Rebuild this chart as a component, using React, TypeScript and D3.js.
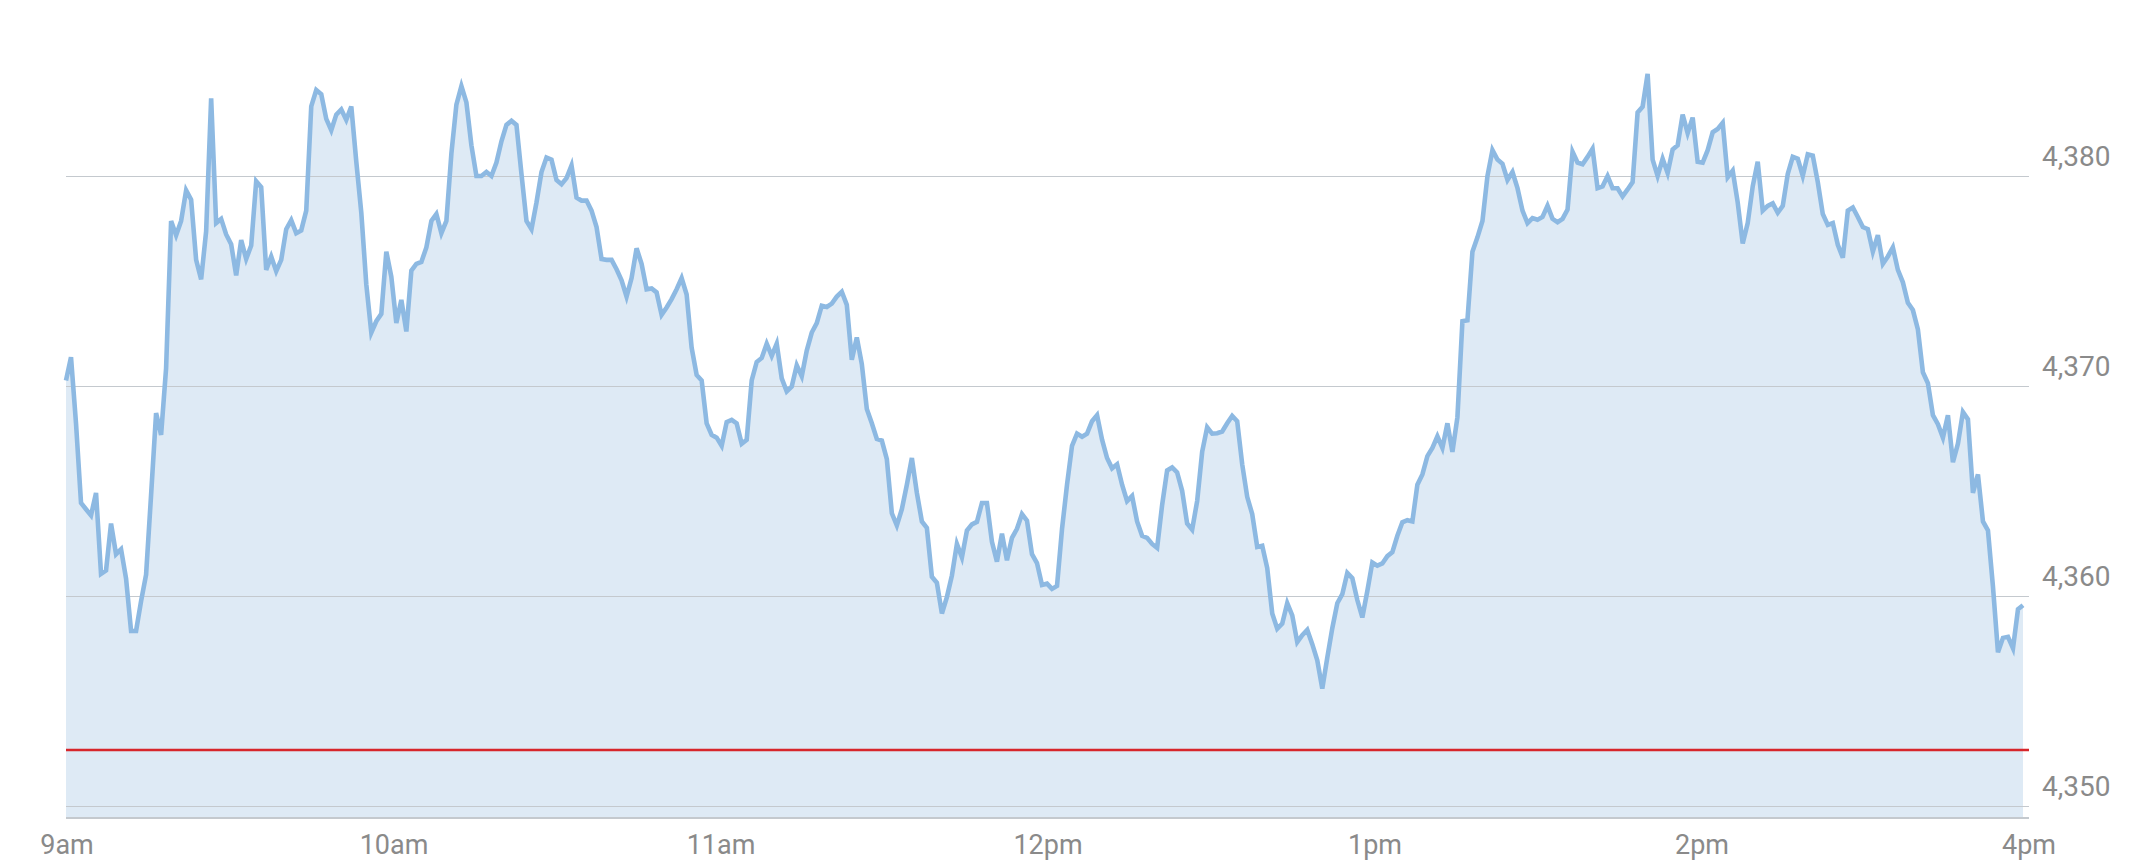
import React from "react";
import * as d3 from "d3";

const prices: number[] = [
  4370.27, 4371.38, 4368.23, 4364.44, 4364.14, 4363.85, 4364.92, 4361.07, 4361.23, 4363.46,
  4362.0, 4362.24, 4360.84, 4358.35, 4358.35, 4359.77, 4361.03, 4364.82, 4368.72, 4367.68,
  4370.86, 4377.86, 4377.18, 4377.86, 4379.32, 4378.87, 4376.01, 4375.08, 4377.37, 4383.7,
  4377.76, 4377.96, 4377.22, 4376.75, 4375.27, 4376.95, 4376.05, 4376.69, 4379.75, 4379.47,
  4375.53, 4376.17, 4375.47, 4376.01, 4377.47, 4377.9, 4377.28, 4377.41, 4378.35, 4383.31,

  4384.09, 4383.89, 4382.72, 4382.18, 4382.92, 4383.17, 4382.67, 4383.31, 4380.68, 4378.25,
  4374.84, 4372.55, 4373.09, 4373.44, 4376.4, 4375.2, 4373.0, 4374.1, 4372.6, 4375.5,
  4375.82, 4375.91, 4376.6, 4377.86, 4378.19, 4377.28, 4377.86, 4381.07, 4383.4, 4384.28,
  4383.5, 4381.46, 4380.0, 4380.0, 4380.19, 4380.0, 4380.64, 4381.65, 4382.43, 4382.63,
  4382.43, 4380.1, 4377.86, 4377.47, 4378.74, 4380.19, 4380.88, 4380.78, 4379.81, 4379.61,

  4379.9, 4380.5, 4378.97, 4378.83, 4378.83, 4378.35, 4377.57, 4376.05, 4376.01, 4376.01,
  4375.56, 4375.04, 4374.26, 4375.14, 4376.56, 4375.82, 4374.61, 4374.65, 4374.46, 4373.39,
  4373.74, 4374.14, 4374.61, 4375.14, 4374.36, 4371.83, 4370.53, 4370.27, 4368.23, 4367.68,
  4367.55, 4367.16, 4368.29, 4368.39, 4368.23, 4367.26, 4367.45, 4370.27, 4371.15, 4371.34,
  4372.02, 4371.44, 4372.02, 4370.37, 4369.75, 4369.98, 4370.99, 4370.47, 4371.69, 4372.55,

  4373.0, 4373.83, 4373.77, 4373.93, 4374.26, 4374.49, 4373.87, 4371.25, 4372.32, 4371.05,
  4368.91, 4368.23, 4367.49, 4367.41, 4366.52, 4363.95, 4363.37, 4364.14, 4365.31, 4366.58,
  4364.92, 4363.56, 4363.25, 4360.93, 4360.64, 4359.18, 4359.96, 4360.99, 4362.49, 4361.85,
  4363.13, 4363.42, 4363.54, 4364.44, 4364.44, 4362.59, 4361.65, 4362.98, 4361.71, 4362.78,
  4363.21, 4363.91, 4363.6, 4362.0, 4361.58, 4360.54, 4360.6, 4360.35, 4360.49, 4363.2,

  4365.31, 4367.16, 4367.74, 4367.59, 4367.74, 4368.33, 4368.62, 4367.45, 4366.58, 4366.09,
  4366.28, 4365.31, 4364.53, 4364.77, 4363.56, 4362.88, 4362.78, 4362.49, 4362.3, 4364.34,
  4365.99, 4366.13, 4365.89, 4365.02, 4363.46, 4363.17, 4364.53, 4366.87, 4368.04, 4367.74,
  4367.76, 4367.84, 4368.23, 4368.58, 4368.33, 4366.28, 4364.73, 4363.91, 4362.35, 4362.4,
  4361.34, 4359.18, 4358.46, 4358.7, 4359.67, 4359.09, 4357.82, 4358.15, 4358.4, 4357.72,

  4356.95, 4355.6, 4357.08, 4358.48, 4359.67, 4360.1, 4361.11, 4360.86, 4359.82, 4358.99,
  4360.25, 4361.61, 4361.46, 4361.56, 4361.91, 4362.1, 4362.88, 4363.52, 4363.62, 4363.56,
  4365.31, 4365.8, 4366.67, 4367.06, 4367.61, 4367.06, 4368.23, 4366.87, 4368.52, 4373.09,
  4373.13, 4376.4, 4377.08, 4377.86, 4380.0, 4381.23, 4380.78, 4380.58, 4379.81, 4380.19,
  4379.42, 4378.35, 4377.76, 4378.0, 4377.92, 4378.05, 4378.58, 4377.96, 4377.8, 4377.96,

  4378.4, 4381.15, 4380.64, 4380.56, 4380.91, 4381.3, 4379.42, 4379.51, 4380.0, 4379.42,
  4379.42, 4379.03, 4379.36, 4379.71, 4383.02, 4383.3, 4384.86, 4380.78, 4380.0, 4380.82,
  4380.14, 4381.26, 4381.46, 4382.92, 4382.04, 4382.78, 4380.68, 4380.64, 4381.23, 4382.08,
  4382.24, 4382.53, 4379.94, 4380.25, 4378.74, 4376.79, 4377.76, 4379.51, 4380.68, 4378.35,
  4378.58, 4378.7, 4378.25, 4378.58, 4380.1, 4380.91, 4380.82, 4380.0, 4381.03, 4380.97,

  4379.71, 4378.19, 4377.67, 4377.76, 4376.73, 4376.11, 4378.35, 4378.5, 4378.05, 4377.57,
  4377.47, 4376.4, 4377.18, 4375.82, 4376.17, 4376.6, 4375.53, 4374.94, 4373.97, 4373.62,
  4372.7, 4370.66, 4370.14, 4368.62, 4368.19, 4367.55, 4368.62, 4366.38, 4367.26, 4368.77,
  4368.42, 4364.92, 4365.8, 4363.56, 4363.13, 4360.45, 4357.33, 4358.02, 4358.07, 4357.53,
  4359.38, 4359.57,
];

const timeLabels: string[] = ["9am", "10am", "11am", "12pm", "1pm", "2pm", "4pm"];
const yTicks: number[] = [4350, 4360, 4370, 4380];
const previousClose = 4352.68;

const W = 2150;
const H = 861;
const plotLeft = 66;
const plotRight = 2023;
const gridRight = 2029;
const plotBottom = 818;

export default function App() {
  const x = d3.scaleLinear().domain([0, prices.length - 1]).range([plotLeft, plotRight]);
  const y = d3.scaleLinear().domain([4350, 4380]).range([806.4, 176]);
  const xl = d3.scalePoint<string>().domain(timeLabels).range([67, 2029]);
  const fmt = d3.format(",");

  const area = d3
    .area<number>()
    .x((_, i) => x(i))
    .y0(plotBottom)
    .y1((d) => y(d));
  const line = d3
    .line<number>()
    .x((_, i) => x(i))
    .y((d) => y(d));

  const font = "Roboto, 'Noto Sans', Arial, sans-serif";

  return (
    <svg
      width={W}
      height={H}
      viewBox={`0 0 ${W} ${H}`}
      style={{ position: "absolute", left: 0, top: 0, background: "#fff" }}
    >
      <path d={area(prices) || ""} fill="#deeaf5" />
      {yTicks.map((t) => (
        <line
          key={"g" + t}
          x1={plotLeft}
          x2={gridRight}
          y1={y(t)}
          y2={y(t)}
          stroke="#c4c9ce"
          strokeWidth={1}
          shapeRendering="crispEdges"
        />
      ))}
      <line
        x1={plotLeft}
        x2={gridRight}
        y1={plotBottom}
        y2={plotBottom}
        stroke="#c4c9ce"
        strokeWidth={1.5}
        shapeRendering="crispEdges"
      />
      <line
        x1={plotLeft}
        x2={gridRight}
        y1={y(previousClose)}
        y2={y(previousClose)}
        stroke="#d7262b"
        strokeWidth={2.5}
      />
      <path
        d={line(prices) || ""}
        fill="none"
        stroke="#8db9e2"
        strokeWidth={4.6}
        strokeLinejoin="miter"
      />
      {yTicks.map((t) => (
        <text
          key={"l" + t}
          x={2042}
          y={y(t) - 10}
          fontFamily={font}
          fontSize={28}
          fill="#8a8a8a"
        >
          {fmt(t)}
        </text>
      ))}
      {timeLabels.map((l) => (
        <text
          key={l}
          x={xl(l)}
          y={854}
          textAnchor="middle"
          fontFamily={font}
          fontSize={27}
          fill="#8a8a8a"
        >
          {l}
        </text>
      ))}
    </svg>
  );
}
